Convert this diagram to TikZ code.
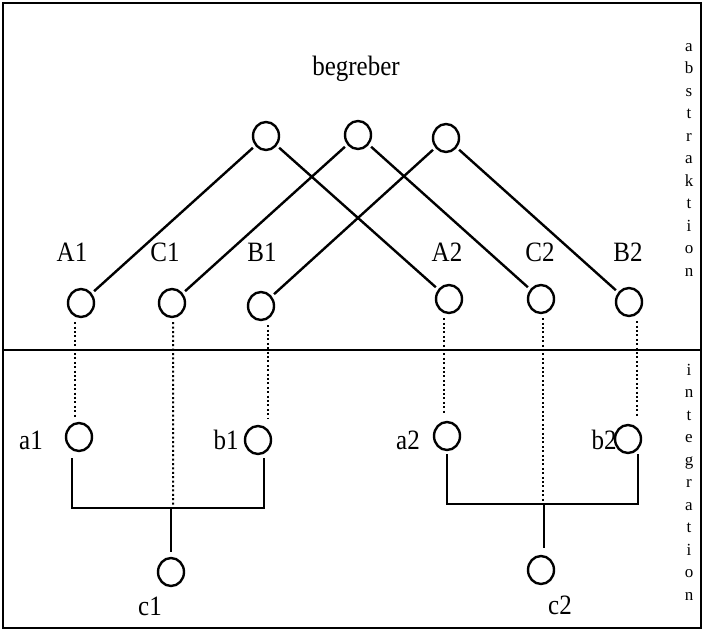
\documentclass[tikz,border=0pt]{standalone}
\usepackage{fontspec}
\usepackage{graphicx}
\usetikzlibrary{shapes.geometric}
\setmainfont{Liberation Serif}
\newcommand{\tallt}[1]{\scalebox{1}[1.12]{#1}}
\begin{document}
\begin{tikzpicture}[x=1bp,y=-1bp,
  ring/.style={ellipse,draw,line width=2.4bp,minimum width=26bp,minimum height=28bp,inner sep=0pt},
  lbl/.style={inner sep=0pt,font=\fontsize{25bp}{28bp}\selectfont},
  side/.style={inner sep=0pt,align=center,font=\fontsize{17bp}{22.5bp}\selectfont},
  link/.style={line width=2.4bp,shorten <=3bp,shorten >=3bp},
  bar/.style={line width=2.6bp},
  dotline/.style={line width=2bp,dash pattern=on 2bp off 2.4bp}]
\useasboundingbox (0,0) rectangle (704,631);
\draw[line width=2.8bp] (3,3) rectangle (701,628);
\draw[line width=2.8bp] (3,350) -- (701,350);

\node[lbl] (title) at (356,69) {\tallt{begreber}};
\node[side] (abs) at (689,160) {a\\b\\s\\t\\r\\a\\k\\t\\i\\o\\n};
\node[side] (int) at (689,482) {i\\n\\t\\e\\g\\r\\a\\t\\i\\o\\n};

% top circles
\node[ring] (T1) at (266,136) {};
\node[ring] (T2) at (358,135) {};
\node[ring] (T3) at (446,138) {};

% abstraction circles
\node[ring] (A1) at (81,303) {};
\node[ring] (C1) at (172,303) {};
\node[ring] (B1) at (261,306) {};
\node[ring] (A2) at (449,299) {};
\node[ring] (C2) at (541,299) {};
\node[ring] (B2) at (629,302) {};

\node[lbl] (lA1) at (72,252) {\tallt{A1}};
\node[lbl] (lC1) at (165,252) {\tallt{C1}};
\node[lbl] (lB1) at (262,252) {\tallt{B1}};
\node[lbl] (lA2) at (447,252) {\tallt{A2}};
\node[lbl] (lC2) at (540,252) {\tallt{C2}};
\node[lbl] (lB2) at (628,252) {\tallt{B2}};

\draw[link] (T1) -- (A1);
\draw[link] (T1) -- (A2);
\draw[link] (T2) -- (C1);
\draw[link] (T2) -- (C2);
\draw[link] (T3) -- (B1);
\draw[link] (T3) -- (B2);

% integration circles
\node[ring] (a1) at (79,437) {};
\node[ring] (b1) at (258,440) {};
\node[ring] (a2) at (447,436) {};
\node[ring] (b2) at (628,439) {};
\node[ring] (c1) at (171,572) {};
\node[ring] (c2) at (541,570) {};

\node[lbl] (la1) at (31,440) {\tallt{a1}};
\node[lbl] (lb1) at (226,440) {\tallt{b1}};
\node[lbl] (la2) at (408,440) {\tallt{a2}};
\node[lbl] (lb2) at (604,440) {\tallt{b2}};
\node[lbl] (lc1) at (150,606) {\tallt{c1}};
\node[lbl] (lc2) at (560,605) {\tallt{c2}};

\coordinate (j1) at (171,508);
\coordinate (j2) at (544,504);

% dotted links
\draw[dotline] ([shift={(-6,4)}]A1.south) -- ([shift={(-4,-4)}]a1.north);
\draw[dotline] ([shift={(7,4)}]B1.south) -- ([shift={(10,-6)}]b1.north);
\draw[dotline] ([shift={(-5,4)}]A2.south) -- ([shift={(-3,-6)}]a2.north);
\draw[dotline] ([shift={(8,4)}]B2.south) -- ([shift={(9,-6)}]b2.north);
\draw[dotline] ([shift={(1,4)}]C1.south) -- ([xshift=2bp]j1);
\draw[dotline] ([shift={(2,4)}]C2.south) -- ([xshift=-1bp]j2);

% integration bars
\draw[bar] ([shift={(-7,6)}]a1.south) |- (j1) -| ([shift={(6,3)}]b1.south);
\draw[bar,shorten >=5bp] (j1) -- (c1.north);
\draw[bar] ([shift={(0,3)}]a2.south) |- (j2) -| ([shift={(10,0)}]b2.south);
\draw[bar,shorten >=7bp] (j2) -- (j2 |- c2.north);
\end{tikzpicture}
\end{document}
